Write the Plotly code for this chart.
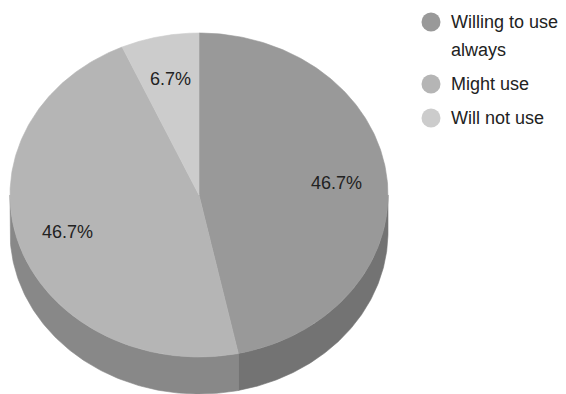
import textwrap
import numpy as np
import plotly.graph_objects as go

# ---- data ----
categories = ["Willing to use always", "Might use", "Will not use"]
values = [7, 7, 1]
top_colors = ["#999999", "#b5b5b5", "#cccccc"]
side_colors = ["#737373", "#888888", "#999999"]

# ---- geometry (pixel space) ----
W, H = 566, 394
cx, cy, rx, ry, depth = 199, 195, 189, 162, 37
label_r = 0.73
font = "Liberation Sans, Arial, sans-serif"


def pt(theta_deg, f=1.0, dy=0.0):
    t = np.radians(theta_deg)
    return cx + rx * f * np.sin(t), cy - ry * f * np.cos(t) + dy


total = float(sum(values))
fracs = [v / total for v in values]
bounds = np.concatenate([[0.0], np.cumsum(fracs) * 360.0])

fig = go.Figure()

# sides (front half only: 90..270 deg)
for i, c in enumerate(categories):
    a0, a1 = bounds[i], bounds[i + 1]
    s, e = max(a0, 90.0), min(a1, 270.0)
    if e <= s:
        continue
    th = np.linspace(s, e, 120)
    xt, yt = pt(th)
    xb, yb = pt(th[::-1], dy=depth)
    xs = np.concatenate([xt, xb, xt[:1]])
    ys = np.concatenate([yt, yb, yt[:1]])
    fig.add_trace(go.Scatter(x=xs, y=ys, mode="lines", fill="toself",
                             fillcolor=side_colors[i],
                             line=dict(color=side_colors[i], width=0.6),
                             hoverinfo="skip", showlegend=False))

# top faces
for i, c in enumerate(categories):
    a0, a1 = bounds[i], bounds[i + 1]
    th = np.linspace(a0, a1, 200)
    xa, ya = pt(th)
    xs = np.concatenate([[cx], xa, [cx]])
    ys = np.concatenate([[cy], ya, [cy]])
    fig.add_trace(go.Scatter(x=xs, y=ys, mode="lines", fill="toself",
                             fillcolor=top_colors[i],
                             line=dict(color=top_colors[i], width=0.6),
                             hoverinfo="skip", showlegend=False))

# percentage labels
for i, c in enumerate(categories):
    mid = (bounds[i] + bounds[i + 1]) / 2
    lx, ly = pt(mid, f=label_r)
    fig.add_annotation(x=lx, y=ly, text=f"{fracs[i]*100:.1f}%", showarrow=False,
                       font=dict(family=font, size=18, color="#222222"),
                       xanchor="center", yanchor="middle")

# legend
leg_x, leg_y, line_step, entry_step = 431, 22, 28, 34
y = leg_y
for i, c in enumerate(categories):
    fig.add_trace(go.Scatter(x=[leg_x], y=[y], mode="markers",
                             marker=dict(size=19, color=top_colors[i]),
                             hoverinfo="skip", showlegend=False))
    lines = textwrap.wrap(c, 14)
    for j, ln in enumerate(lines):
        fig.add_annotation(x=leg_x + 18, y=y + j * line_step, text=ln, showarrow=False,
                           font=dict(family=font, size=18, color="#222222"),
                           xanchor="left", yanchor="middle")
    y += (len(lines) - 1) * line_step + entry_step

fig.update_layout(
    width=W, height=H,
    margin=dict(l=0, r=0, t=0, b=0),
    paper_bgcolor="white", plot_bgcolor="white",
    hovermode=False,
    xaxis=dict(range=[0, W], visible=False, fixedrange=True),
    yaxis=dict(range=[H, 0], visible=False, fixedrange=True),
)

fig.write_html("out.html")
